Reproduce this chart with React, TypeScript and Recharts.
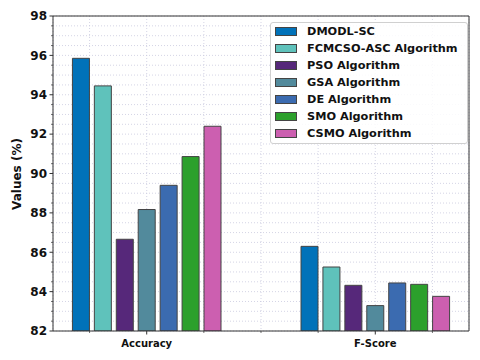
import React from 'react';
import { BarChart, Bar, XAxis, YAxis, CartesianGrid, Legend, ReferenceLine } from 'recharts';

const CATEGORIES = ['Accuracy', 'F-Score'];
const CATEGORY_POS = [0, 1];

const SERIES_NAMES = [
  'DMODL-SC',
  'FCMCSO-ASC Algorithm',
  'PSO Algorithm',
  'GSA Algorithm',
  'DE Algorithm',
  'SMO Algorithm',
  'CSMO Algorithm',
];
const SERIES_KEYS = ['dmodl', 'fcmcso', 'pso', 'gsa', 'de', 'smo', 'csmo'];
const COLORS = ['#0172b9', '#5fc2bb', '#56287a', '#528a9c', '#3b6bb0', '#2ca02c', '#cc5fb0'];

const DMODL_SC = [95.85, 86.3];
const FCMCSO_ASC = [94.45, 85.25];
const PSO = [86.66, 84.32];
const GSA = [88.17, 83.29];
const DE = [89.4, 84.44];
const SMO = [90.86, 84.37];
const CSMO = [92.4, 83.76];
const SERIES_VALUES = [DMODL_SC, FCMCSO_ASC, PSO, GSA, DE, SMO, CSMO];

const Y_MAJOR_TICKS = [82, 84, 86, 88, 90, 92, 94, 96, 98];
const Y_TICKS: number[] = [];
for (let i = 0; i < Y_MAJOR_TICKS.length; i++) {
  Y_TICKS.push(Y_MAJOR_TICKS[i]);
  if (i < Y_MAJOR_TICKS.length - 1) {
    for (let k = 1; k < 4; k++) Y_TICKS.push(Y_MAJOR_TICKS[i] + k * 0.5);
  }
}
const X_TICKS = [-0.25, 0, 0.25, 0.5, 0.75, 1, 1.25];
const X_DOMAIN = [-0.41, 1.41];

const data = CATEGORIES.map((name, ci) => {
  const row: any = { x: CATEGORY_POS[ci], name };
  SERIES_KEYS.forEach((k, si) => {
    row[k] = SERIES_VALUES[si][ci];
  });
  return row;
});

const FONT = '"DejaVu Sans", sans-serif';

const YTick = (props: any) => {
  const { x, y, payload } = props;
  const v = payload.value;
  const major = Math.abs(v - Math.round(v)) < 1e-6 && Math.round(v) % 2 === 0;
  return (
    <g>
      <line x1={x} x2={x - (major ? 3.5 : 2)} y1={y} y2={y} stroke="#333" strokeWidth={major ? 1 : 0.7} />
      {major && (
        <text x={x - 6} y={y} dy="0.36em" textAnchor="end" fontFamily={FONT} fontWeight="bold" fontSize={12} fill="#111">
          {v}
        </text>
      )}
    </g>
  );
};

const XTick = (props: any) => {
  const { x, y, payload } = props;
  const v = payload.value;
  const idx = CATEGORY_POS.indexOf(v);
  const major = idx >= 0;
  return (
    <g>
      <line x1={x} x2={x} y1={y} y2={y + (major ? 3.5 : 2)} stroke="#333" strokeWidth={major ? 1 : 0.7} />
      {major && (
        <text x={x} y={y + 15.5} textAnchor="middle" fontFamily={FONT} fontWeight="bold" fontSize={10} fill="#111">
          {CATEGORIES[idx]}
        </text>
      )}
    </g>
  );
};

const LegendBox = () => (
  <div
    style={{
      border: '1px solid #d0d0d0',
      borderRadius: 3,
      background: 'rgba(255,255,255,0.85)',
      padding: '0 0 1px 4px',
      boxSizing: 'border-box',
      width: 198,
    }}
  >
    {SERIES_NAMES.map((n, i) => (
      <div key={n} style={{ display: 'flex', alignItems: 'center', height: 17 }}>
        <div
          style={{
            width: 22,
            height: 9,
            boxSizing: 'border-box',
            background: COLORS[i],
            border: '1px solid #444',
            marginRight: 10,
          }}
        />
        <span style={{ fontFamily: FONT, fontWeight: 'bold', fontSize: 11.3, color: '#111', whiteSpace: 'nowrap' }}>{n}</span>
      </div>
    ))}
  </div>
);

const YLabel = () => (
  <text
    x={17}
    y={174}
    transform="rotate(-90 17 174)"
    textAnchor="middle"
    dominantBaseline="central"
    fontFamily={FONT}
    fontWeight="bold"
    fontSize={12}
    fill="#111"
  >
    Values (%)
  </text>
);

export default function App() {
  return (
    <div style={{ position: 'absolute', left: 0, top: 0, width: 480, height: 360, background: '#fff' }}>
      <BarChart
        width={480}
        height={360}
        data={data}
        margin={{ top: 16, right: 11, left: 0, bottom: 0 }}
        barSize={17}
        barGap={4.93}
      >
        <CartesianGrid stroke="#c9c9de" strokeDasharray="1 2" strokeWidth={0.8} />
        <XAxis
          dataKey="x"
          type="number"
          domain={X_DOMAIN}
          allowDataOverflow
          ticks={X_TICKS}
          interval={0}
          height={29}
          tickSize={0}
          tickMargin={0}
          tickLine={false}
          tick={<XTick />}
          axisLine={{ stroke: '#333', strokeWidth: 1 }}
        />
        <YAxis
          type="number"
          domain={[82, 98]}
          allowDataOverflow
          ticks={Y_TICKS}
          interval={0}
          width={53}
          tickSize={0}
          tickMargin={0}
          tickLine={false}
          tick={<YTick />}
          axisLine={{ stroke: '#333', strokeWidth: 1 }}
          label={<YLabel />}
        />
        <ReferenceLine y={98} stroke="#333" strokeWidth={1} ifOverflow="visible" />
        <ReferenceLine x={X_DOMAIN[1]} stroke="#333" strokeWidth={1} ifOverflow="visible" />
        {SERIES_KEYS.map((k, i) => (
          <Bar
            key={k}
            dataKey={k}
            name={SERIES_NAMES[i]}
            fill={COLORS[i]}
            stroke="#444"
            strokeWidth={1}
            isAnimationActive={false}
          />
        ))}
        <Legend
          layout="vertical"
          align="center"
          verticalAlign="middle"
          wrapperStyle={{ left: 270, top: 22, width: 198 }}
          content={<LegendBox />}
        />
      </BarChart>
    </div>
  );
}
